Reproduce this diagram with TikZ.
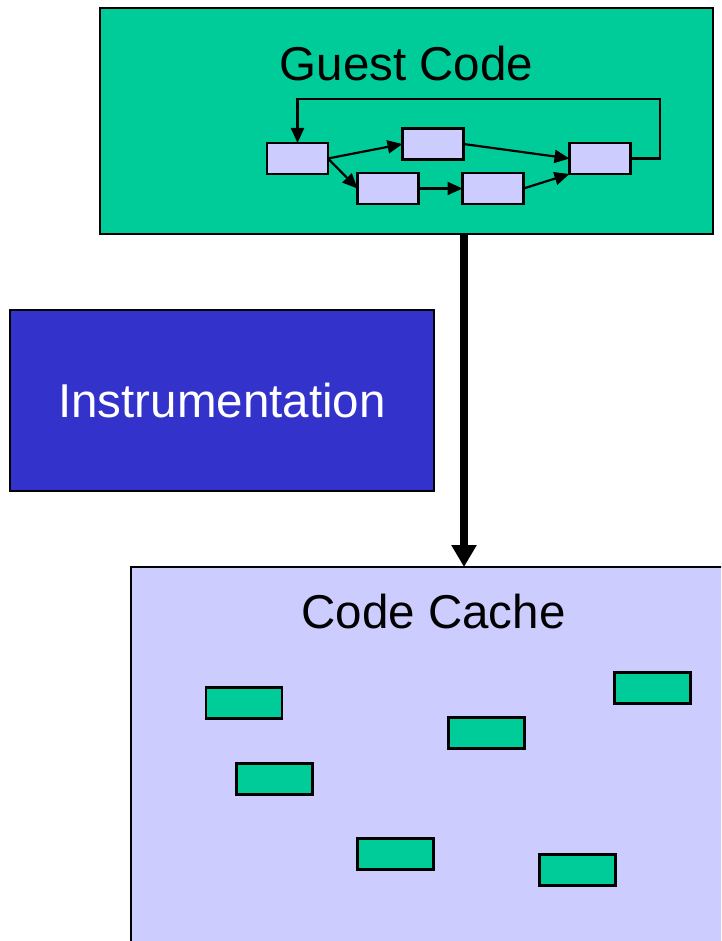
\documentclass[tikz,border=0pt]{standalone}
\usepackage{fontspec}
\setmainfont{Liberation Sans}
\usetikzlibrary{arrows.meta,positioning}
\definecolor{guestgreen}{HTML}{00CC99}
\definecolor{cachelilac}{HTML}{CCCCFF}
\definecolor{instrblue}{HTML}{3333CC}

\begin{document}
\begin{tikzpicture}[x=1pt,y=-1pt,
  every node/.style={inner sep=0pt,outer sep=0pt},
  panel/.style={draw,line width=2.2pt,rectangle},
  bblock/.style={draw,line width=2.2pt,fill=cachelilac,minimum width=61pt,minimum height=31pt},
  trace/.style={draw,line width=2.4pt,fill=guestgreen,minimum width=76pt,minimum height=31pt},
  flow/.style={line width=2.2pt,-{Triangle[length=15pt,width=13pt]}},
  big font/.style={font=\fontsize{47.5}{52}\selectfont}]
  \clip (0,0) rectangle (721,941);
  % the three panels
  \path
  node[panel,fill=guestgreen,minimum width=613pt,minimum height=226pt,
       label={[big font,anchor=base,yshift=-73pt]north:Guest Code}] (guest) at (406.5,121) {}
  node[panel,fill=instrblue,minimum width=424pt,minimum height=181pt,
       big font,text=white] (instr) at (222,400.5) {Instrumentation}
  node[panel,fill=cachelilac,minimum width=605pt,minimum height=400pt,
       label={[big font,anchor=base,yshift=-61pt]north:Code Cache}] (cache) at (433.5,767) {}
  ;
  % basic blocks of the guest code
  \path
  node[bblock] (b1) at (297.5,158.5) {}
  node[bblock] (b2) at (433,144) {}
  node[bblock] (b3) at (388,188.5) {}
  node[bblock] (b4) [right=44pt of b3] {}
  node[bblock] (b5) at (600,158.5) {}
  ;
  \coordinate (loop) at (660,99);
  \path[flow]
  (b1.east) edge (b2.west)
  (b1.east) edge (b3.west)
  (b3.east) edge (b4.west)
  (b2.east) edge (b5.west)
  (b4.east) edge (b5.south west)
  ;
  \draw[flow] (b5.east) -| (loop) -| (b1.north);
  % translated traces
  \path
  node[trace] (c1) at (244,703) {}
  node[trace] (c2) at (486.5,733) {}
  node[trace] (c3) at (652.5,688) {}
  node[trace] (c4) at (274.5,779) {}
  node[trace] (c5) at (395.5,854) {}
  node[trace] (c6) at (577.5,870) {}
  ;
  \coordinate (spine) at (464,0);
  \draw[line width=8pt,-{Triangle[length=22pt,width=24pt]}]
    (guest.south -| spine) -- (cache.north -| spine);
\end{tikzpicture}
\end{document}
